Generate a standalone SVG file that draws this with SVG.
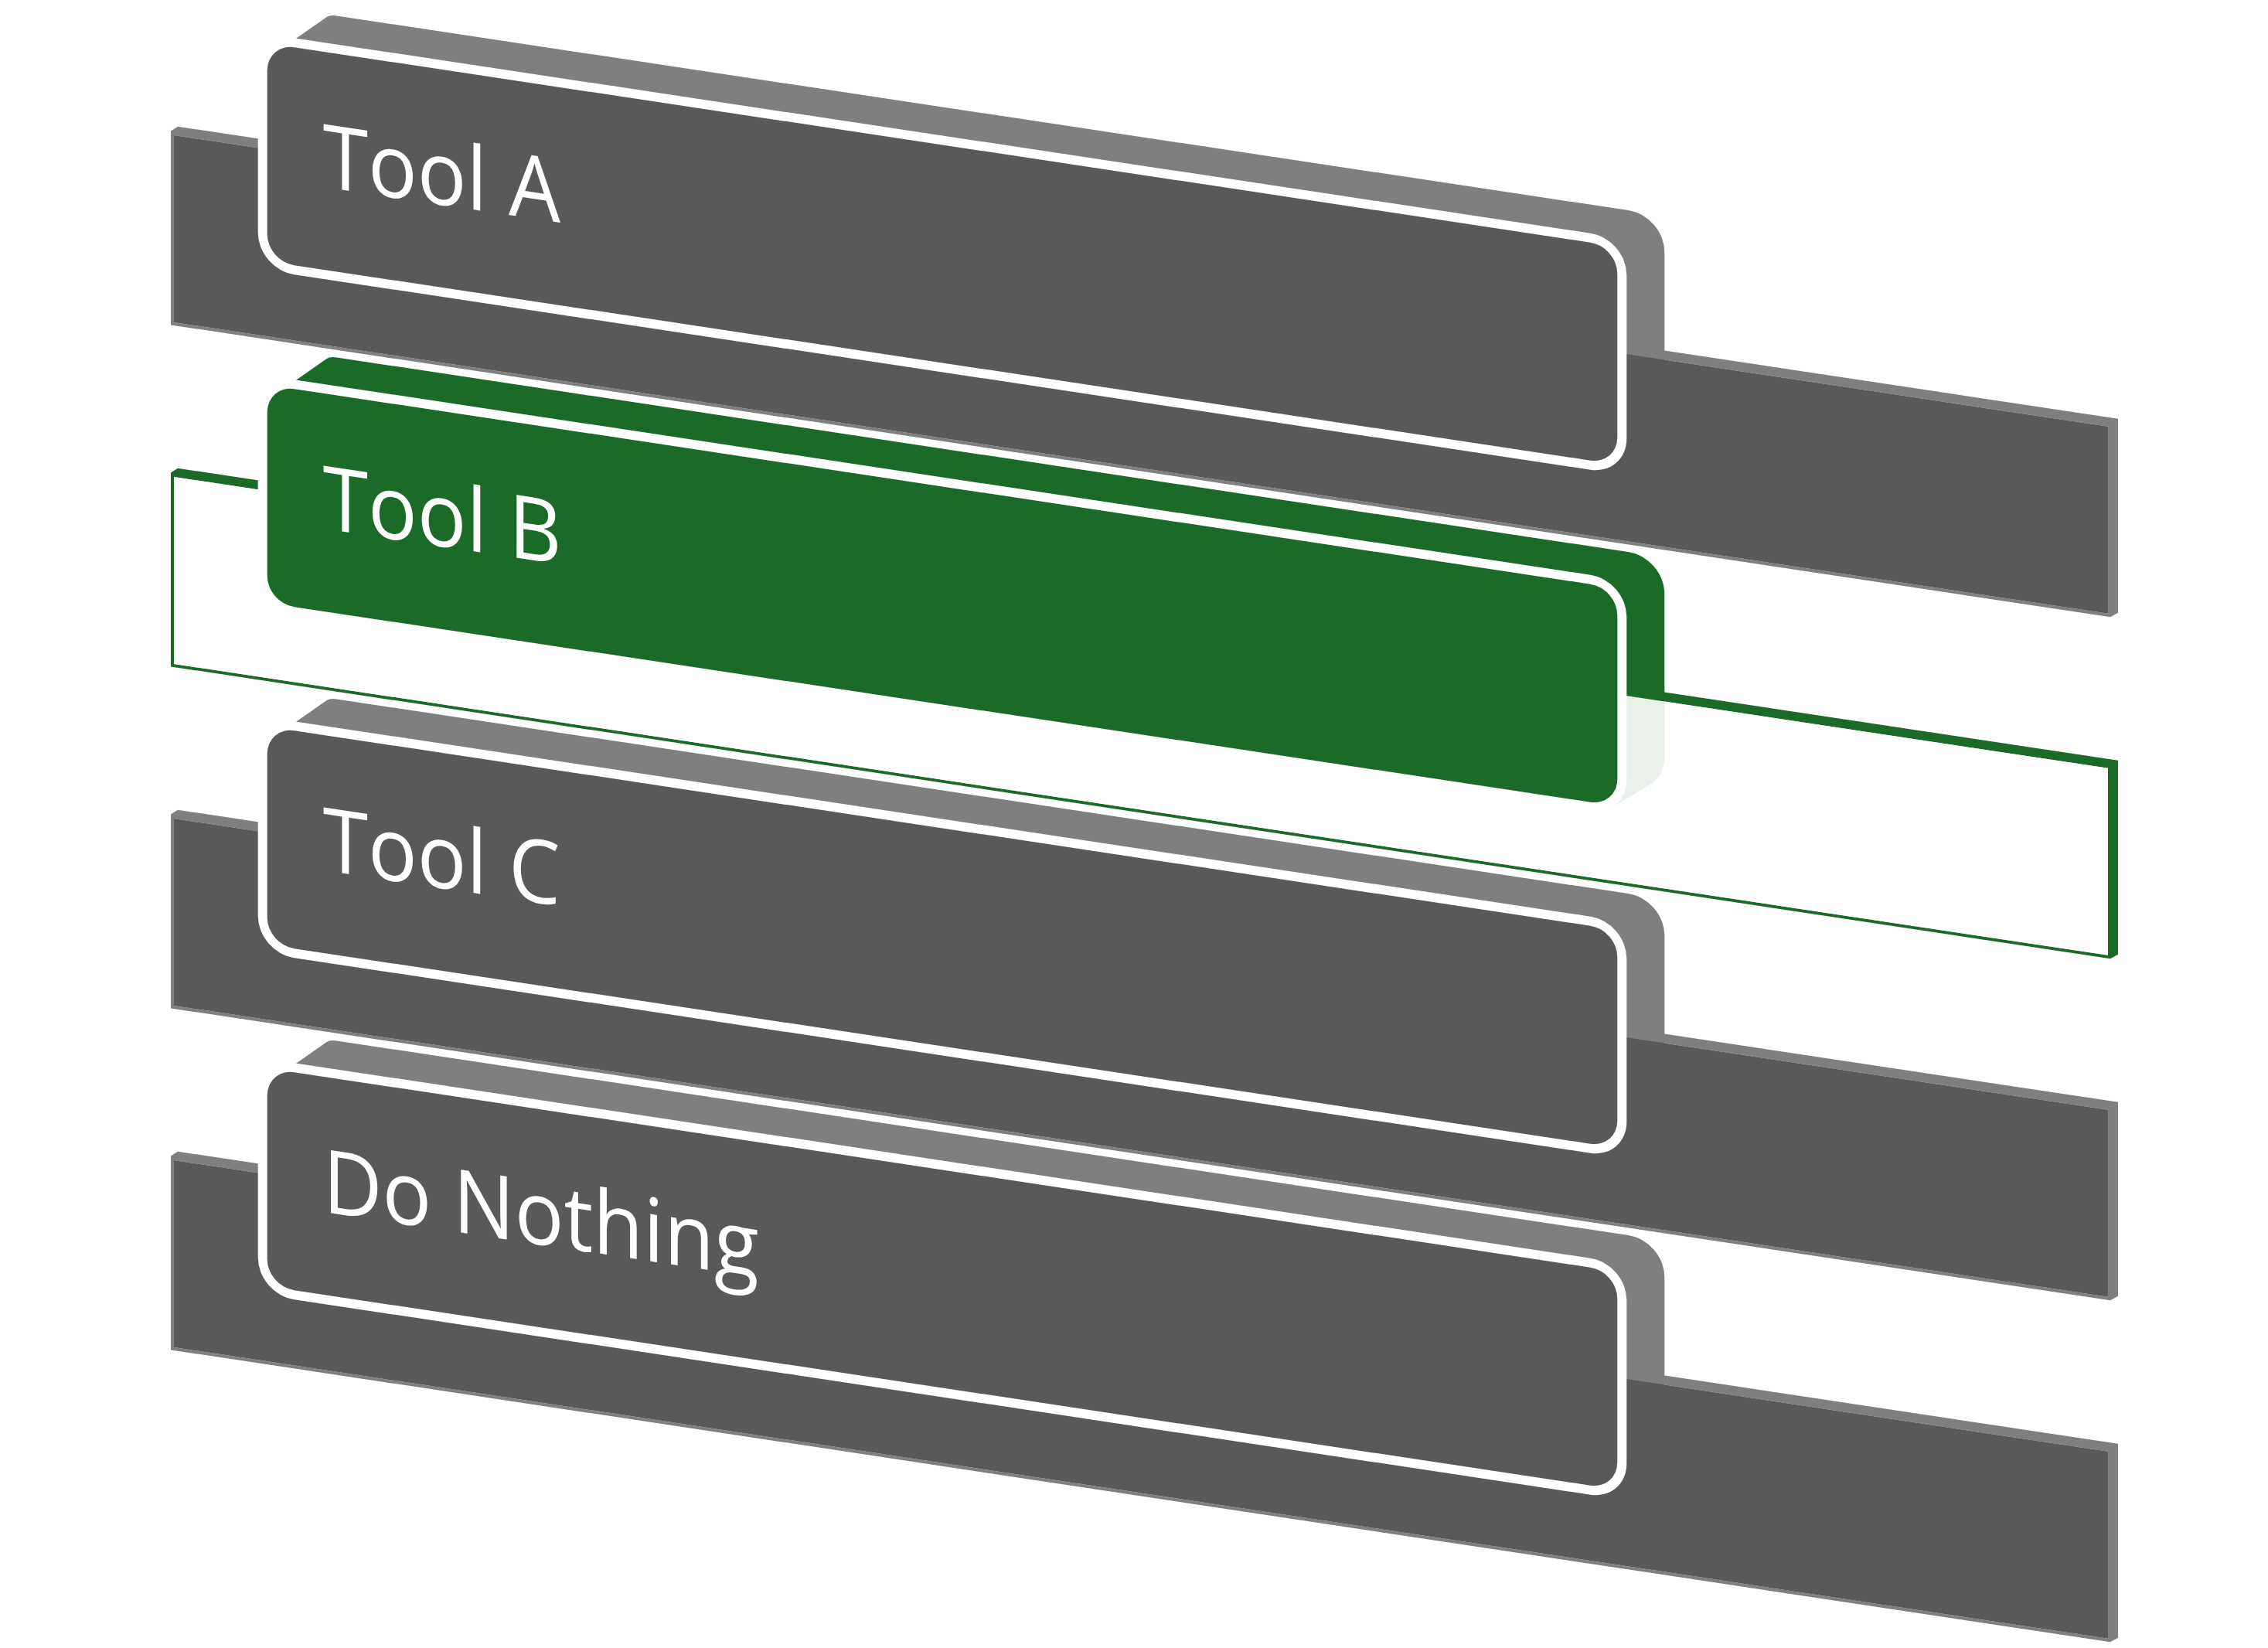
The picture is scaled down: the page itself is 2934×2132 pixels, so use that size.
<svg xmlns="http://www.w3.org/2000/svg" xmlns:xlink="http://www.w3.org/1999/xlink" width="2934" height="2132" viewBox="0 0 2934 2132">
<style>
.bg{fill:#ffffff}
.ext-gray{fill:#7f7f7f}
.face-gray{fill:#595959}
.ext-green{fill:#1b6a27}
.face-green{fill:#1b6a27}
.panel-white{fill:#ffffff;fill-opacity:0.9}
.outline{fill:#ffffff}
.label{font-family:"Open Sans","Noto Sans","DejaVu Sans",sans-serif;font-size:114px;fill:#ffffff}
</style>
<defs>
<path id="panelEdge" fill-rule="evenodd" d="M-4,-5 L5,-12 L2515,-12 L2515,239 L2505,246 L-4,246 Z M0,0 L0,242 L2502,242 L2502,0 Z"/>
<rect id="panelFace" x="0" y="0" width="2502" height="242"/>
<path id="tabHull" d="M14,8 L77,-45.5 Q81,-49 90,-49 L1760.6,-49 A47,47 0 0 1 1807.6,-2 L1807.6,210 A47,47 0 0 1 1788.92,247.51 L1739.92,284.51 Z"/>
<rect id="tabOuter" x="-12" y="-12" width="1770.6" height="306" rx="47" ry="47"/>
<rect id="tabFace" x="0" y="0" width="1746.6" height="282" rx="35" ry="35"/>
</defs>
<rect class="bg" x="0" y="0" width="2934" height="2132"/>

<g id="node-tool-a">
  <g transform="matrix(1,0.1506,0,1,345.7,55.9)"><use xlink:href="#tabHull" class="ext-gray"/></g>
  <g transform="matrix(1,0.1506,0,1,225,175)"><use xlink:href="#panelEdge" class="ext-gray"/><use xlink:href="#panelFace" class="face-gray"/></g>
  <g transform="matrix(1,0.1506,0,1,345.7,55.9)"><use xlink:href="#tabOuter" class="outline"/><use xlink:href="#tabFace" class="face-gray"/><text class="label" transform="scale(0.93,1)" x="77.4" y="175">Tool A</text></g>
</g>

<g id="node-tool-b" transform="translate(0,442)">
  <g transform="matrix(1,0.1506,0,1,345.7,55.9)"><use xlink:href="#tabHull" class="ext-green"/></g>
  <g transform="matrix(1,0.1506,0,1,225,175)"><use xlink:href="#panelEdge" class="ext-green"/><use xlink:href="#panelFace" class="panel-white"/></g>
  <g transform="matrix(1,0.1506,0,1,345.7,55.9)"><use xlink:href="#tabOuter" class="outline"/><use xlink:href="#tabFace" class="face-green"/><text class="label" transform="scale(0.93,1)" x="77.4" y="175">Tool B</text></g>
</g>

<g id="node-tool-c" transform="translate(0,884)">
  <g transform="matrix(1,0.1506,0,1,345.7,55.9)"><use xlink:href="#tabHull" class="ext-gray"/></g>
  <g transform="matrix(1,0.1506,0,1,225,175)"><use xlink:href="#panelEdge" class="ext-gray"/><use xlink:href="#panelFace" class="face-gray"/></g>
  <g transform="matrix(1,0.1506,0,1,345.7,55.9)"><use xlink:href="#tabOuter" class="outline"/><use xlink:href="#tabFace" class="face-gray"/><text class="label" transform="scale(0.93,1)" x="77.4" y="175">Tool C</text></g>
</g>

<g id="node-do-nothing" transform="translate(0,1326)">
  <g transform="matrix(1,0.1506,0,1,345.7,55.9)"><use xlink:href="#tabHull" class="ext-gray"/></g>
  <g transform="matrix(1,0.1506,0,1,225,175)"><use xlink:href="#panelEdge" class="ext-gray"/><use xlink:href="#panelFace" class="face-gray"/></g>
  <g transform="matrix(1,0.1506,0,1,345.7,55.9)"><use xlink:href="#tabOuter" class="outline"/><use xlink:href="#tabFace" class="face-gray"/><text class="label" transform="scale(0.93,1)" x="77.4" y="175">Do Nothing</text></g>
</g>

<g id="connectors"></g>
</svg>
